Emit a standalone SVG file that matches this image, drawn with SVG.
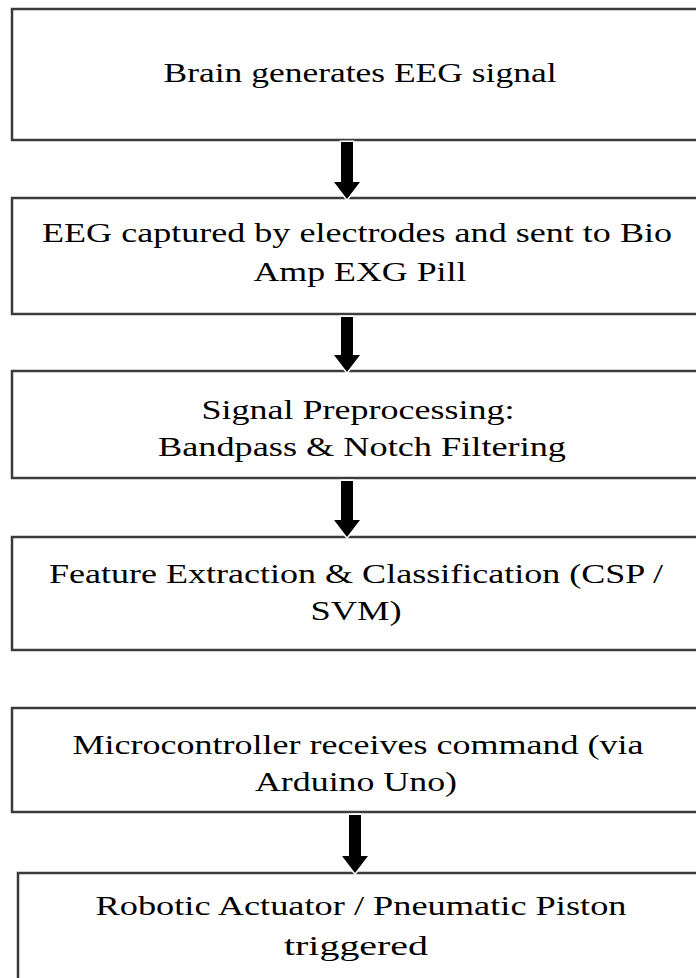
<svg xmlns="http://www.w3.org/2000/svg" width="696" height="978" viewBox="0 0 696 978">
<style>
.box{fill:#fff;stroke:#3c3c3c;stroke-width:2.5}
.t{font-family:"Liberation Serif","Times New Roman",serif;font-size:28px;fill:#000;text-anchor:middle}
.arr{fill:#000;stroke:#fff;stroke-width:3;paint-order:stroke}
</style>
<rect width="696" height="978" fill="#fff"/>
<g id="n1">
<rect class="box" x="12" y="9" width="700" height="131"/>
<text class="t" x="360" y="82" textLength="393" lengthAdjust="spacingAndGlyphs">Brain generates EEG signal</text>
</g>
<g id="n2">
<rect class="box" x="12" y="198" width="700" height="116"/>
<text class="t" x="357" y="242" textLength="630" lengthAdjust="spacingAndGlyphs">EEG captured by electrodes and sent to Bio</text>
<text class="t" x="360" y="281" textLength="213" lengthAdjust="spacingAndGlyphs">Amp EXG Pill</text>
</g>
<g id="n3">
<rect class="box" x="12" y="371" width="700" height="107"/>
<text class="t" x="358" y="419" textLength="313" lengthAdjust="spacingAndGlyphs">Signal Preprocessing:</text>
<text class="t" x="362" y="456" textLength="408" lengthAdjust="spacingAndGlyphs">Bandpass &amp; Notch Filtering</text>
</g>
<g id="n4">
<rect class="box" x="12" y="537" width="700" height="113"/>
<text class="t" x="356" y="583" textLength="614" lengthAdjust="spacingAndGlyphs">Feature Extraction &amp; Classification (CSP /</text>
<text class="t" x="356" y="620" textLength="91" lengthAdjust="spacingAndGlyphs">SVM)</text>
</g>
<g id="n5">
<rect class="box" x="12" y="708" width="700" height="104"/>
<text class="t" x="358" y="754" textLength="571" lengthAdjust="spacingAndGlyphs">Microcontroller receives command (via</text>
<text class="t" x="356" y="791" textLength="202" lengthAdjust="spacingAndGlyphs">Arduino Uno)</text>
</g>
<g id="n6">
<rect class="box" x="18" y="873" width="700" height="120"/>
<text class="t" x="361" y="915" textLength="531" lengthAdjust="spacingAndGlyphs">Robotic Actuator / Pneumatic Piston</text>
<text class="t" x="356" y="955" textLength="144" lengthAdjust="spacingAndGlyphs">triggered</text>
</g>
<g id="connectors">
<polygon class="arr" points="341,142 353,142 353,182 360,182 347,199 334,182 341,182"/>
<polygon class="arr" points="341,317 353,317 353,355 360,355 347,372 334,355 341,355"/>
<polygon class="arr" points="341,481 353,481 353,520 360,520 347,537 334,520 341,520"/>
<polygon class="arr" points="349,815 361,815 361,856 368,856 355,873 342,856 349,856"/>
</g>
</svg>
